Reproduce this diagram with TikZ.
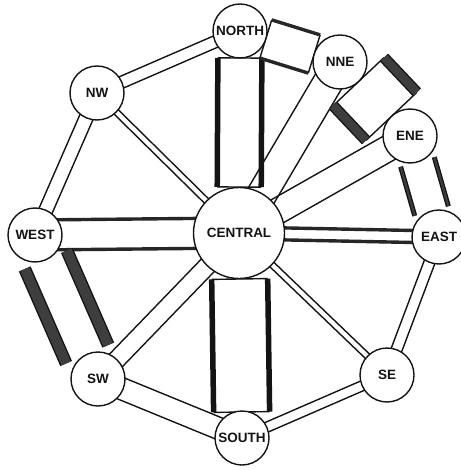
\documentclass[tikz,border=0pt]{standalone}
\usepackage{fontspec}
\setmainfont{Liberation Sans}
\usetikzlibrary{calc,backgrounds}
\definecolor{ink}{HTML}{141414}
\definecolor{smudge}{HTML}{262626}
\definecolor{grit}{HTML}{3E3E3E}

% ends of a link, #3 and #4 in from the two centres
\newcommand\linkends[4]{%
  \coordinate (#1#2a) at ($(#1.center)!#3!(#2.center)$);
  \coordinate (#1#2b) at ($(#2.center)!#4!(#1.center)$);}
% the two long sides, #3 out from the middle line
\newcommand\linkpair[4]{%
  \draw[#4] ($(#1#2a)!#3!90:(#1#2b)$) -- ($(#1#2b)!#3!-90:(#1#2a)$)
            ($(#1#2a)!#3!-90:(#1#2b)$) -- ($(#1#2b)!#3!90:(#1#2a)$);}
% the two short sides
\newcommand\linkcaps[4]{%
  \draw[#4] ($(#1#2a)!#3!90:(#1#2b)$) -- ($(#1#2a)!#3!-90:(#1#2b)$)
            ($(#1#2b)!#3!90:(#1#2a)$) -- ($(#1#2b)!#3!-90:(#1#2a)$);}

\begin{document}
\begin{tikzpicture}[x=1pt,y=-1pt,line join=round,
    stn/.style={circle,draw=ink,line width=1.4pt,fill=white,minimum size=54pt,
      inner sep=0pt,text=ink,font=\bfseries\fontsize{13.5}{14}\selectfont},
    hub/.style={stn,minimum size=91pt},
    rail/.style={draw=ink,line width=1.4pt},
    grime/.style={draw=smudge,line width=3.4pt},
    post/.style={draw=ink,line width=5.5pt},
    slab/.style={draw=ink,line width=1.4pt,double=grit,double distance=#1}]

  \useasboundingbox (0,0) rectangle (460,470);

  \node[stn] (north) at (240,31) {NORTH};
  \node[stn] (nne) at (340,62) {NNE};
  \node[stn] (nw) at (97,93) {NW};
  \node[stn] (ene) at (410,136) {ENE};
  \node[stn] (west) at (35,235) {WEST};
  \node[hub] (central) at (239,233) {CENTRAL};
  \node[stn] (east) at (439,237) {EAST};
  \node[stn] (sw) at (98,379) {SW};
  \node[stn] (se) at (387,375) {SE};
  \node[stn] (south) at (242,438) {SOUTH};

  \begin{scope}[on background layer]
    % plain links
    \linkends{nw}{north}{0pt}{0pt}       \linkpair{nw}{north}{6pt}{rail}
    \linkends{nw}{west}{0pt}{0pt}        \linkpair{nw}{west}{7pt}{rail}
    \linkends{nw}{central}{0pt}{0pt}     \linkpair{nw}{central}{3pt}{rail}
    \linkends{nne}{central}{0pt}{0pt}    \linkpair{nne}{central}{15pt}{rail}
    \linkends{ene}{central}{0pt}{0pt}    \linkpair{ene}{central}{13pt}{rail}
    \linkends{sw}{central}{0pt}{0pt}     \linkpair{sw}{central}{9pt}{rail}
    \linkends{sw}{south}{0pt}{0pt}       \linkpair{sw}{south}{11pt}{rail}
    \linkends{central}{se}{0pt}{0pt}     \linkpair{central}{se}{3pt}{rail}
    \linkends{se}{east}{0pt}{0pt}        \linkpair{se}{east}{5.5pt}{rail}
    \linkends{se}{south}{0pt}{0pt}       \linkpair{se}{south}{5pt}{rail}
    \linkends{central}{east}{0pt}{0pt}   \linkpair{central}{east}{6pt}{grime}
    \linkends{west}{central}{0pt}{0pt}   \linkpair{west}{central}{15pt}{grime}
    % boxes
    \linkends{north}{central}{27pt}{46pt}
    \linkcaps{north}{central}{22pt}{rail}  \linkpair{north}{central}{22pt}{post}
    \linkends{central}{south}{46pt}{26pt}
    \linkcaps{central}{south}{28pt}{rail}  \linkpair{central}{south}{28pt}{post}
    \linkends{north}{nne}{27pt}{27pt}
    \linkcaps{north}{nne}{20pt}{rail}      \linkpair{north}{nne}{20pt}{grime}
    \linkends{nne}{ene}{27pt}{27pt}
    \linkcaps{nne}{ene}{35pt}{rail}        \linkpair{nne}{ene}{35pt}{slab=8.5pt}
    % bars
    \linkends{west}{sw}{27pt}{27pt}        \linkpair{west}{sw}{23pt}{slab=10pt}
    \linkends{ene}{east}{27pt}{27pt}       \linkpair{ene}{east}{17.5pt}{slab=2.2pt}
  \end{scope}
\end{tikzpicture}
\end{document}
